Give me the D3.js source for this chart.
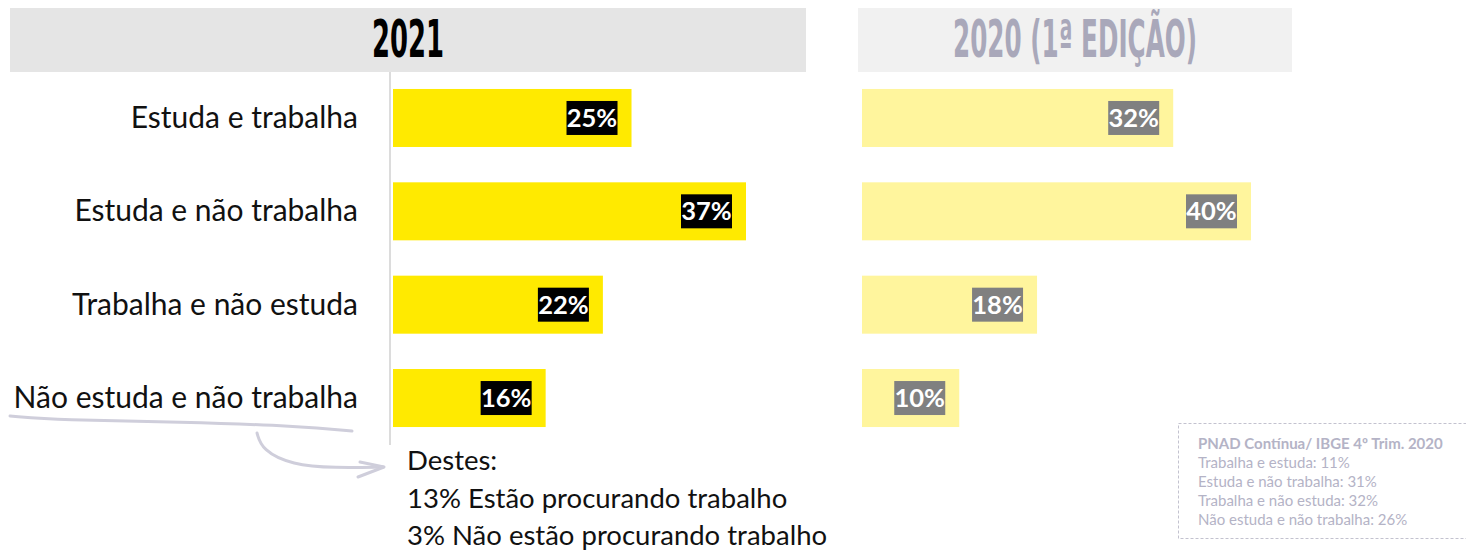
<!DOCTYPE html>
<html>
<head>
<meta charset="utf-8">
<script src="https://cdn.jsdelivr.net/npm/d3@7"></script>
<style>
  body { margin: 0; background: #fff; }
  svg { display: block; }
</style>
</head>
<body>
<div id="container"></div>
<script>
const width = 1466;
const height = 550;

// categorias e valores (%)
const categories = ["Estuda e trabalha", "Estuda e não trabalha", "Trabalha e não estuda", "Não estuda e não trabalha"];
const values2021 = [25, 37, 22, 16];
const values2020 = [32, 40, 18, 10];
const titles = ["2021", "2020 (1ª EDIÇÃO)"];
const noteLines = ["Destes:", "13% Estão procurando trabalho", "3% Não estão procurando trabalho"];
const sourceTitle = "PNAD Contínua/ IBGE 4º Trim. 2020";
const sourceLines = ["Trabalha e estuda: 11%", "Estuda e não trabalha: 31%", "Trabalha e não estuda: 32%", "Não estuda e não trabalha: 26%"];

const font = "Lato, 'Source Sans Pro', sans-serif";

const svg = d3.select("#container")
  .append("svg")
  .attr("width", width)
  .attr("height", height);

// headers
svg.append("rect").attr("x", 10).attr("y", 8).attr("width", 796).attr("height", 64).attr("fill", "#e5e5e5");
svg.append("rect").attr("x", 858).attr("y", 8).attr("width", 434).attr("height", 64).attr("fill", "#f1f1f1");

svg.append("text")
  .attr("x", 408).attr("y", 57)
  .attr("text-anchor", "middle")
  .attr("font-family", "'DejaVu Sans Condensed', 'DejaVu Sans', sans-serif")
  .attr("font-weight", "bold")
  .attr("font-size", 51)
  .attr("textLength", 72)
  .attr("lengthAdjust", "spacingAndGlyphs")
  .attr("fill", "#000")
  .text(titles[0]);

svg.append("text")
  .attr("x", 1075).attr("y", 57)
  .attr("text-anchor", "middle")
  .attr("font-family", "'DejaVu Sans Condensed', 'DejaVu Sans', sans-serif")
  .attr("font-weight", "bold")
  .attr("font-size", 51)
  .attr("textLength", 244)
  .attr("lengthAdjust", "spacingAndGlyphs")
  .attr("fill", "#a9a8ba")
  .text(titles[1]);

// scales
const y = d3.scaleBand()
  .domain(categories)
  .range([70.3, 445.7])
  .paddingInner(0.3786)
  .paddingOuter(0.2);

const x21 = d3.scaleLinear().domain([0, 37]).range([393, 746]);
const x20 = d3.scaleLinear().domain([0, 40]).range([862, 1251]);

// category labels
svg.selectAll("text.cat")
  .data(categories)
  .join("text")
  .attr("class", "cat")
  .attr("x", 358)
  .attr("y", d => y(d) + y.bandwidth() / 2 + 10)
  .attr("text-anchor", "end")
  .attr("font-family", font)
  .attr("font-size", 30)
  .attr("fill", "#111")
  .text(d => d);

// axis line
svg.append("line")
  .attr("x1", 390).attr("x2", 390)
  .attr("y1", 72).attr("y2", 445)
  .attr("stroke", "#dcdcdc").attr("stroke-width", 2);

function drawBars(vals, x, fill, boxFill, cls) {
  const data = categories.map((c, i) => ({ cat: c, v: vals[i] }));
  const g = svg.append("g").attr("class", cls);

  g.selectAll("rect.bar")
    .data(data)
    .join("rect")
    .attr("class", "bar")
    .attr("x", x(0))
    .attr("y", d => y(d.cat))
    .attr("width", d => x(d.v) - x(0))
    .attr("height", y.bandwidth())
    .attr("fill", fill);

  const boxW = 51, boxH = 34;
  g.selectAll("rect.lbl")
    .data(data)
    .join("rect")
    .attr("class", "lbl")
    .attr("x", d => x(d.v) - 14 - boxW)
    .attr("y", d => y(d.cat) + y.bandwidth() / 2 - boxH / 2)
    .attr("width", boxW)
    .attr("height", boxH)
    .attr("fill", boxFill);

  g.selectAll("text.val")
    .data(data)
    .join("text")
    .attr("class", "val")
    .attr("x", d => x(d.v) - 14 - boxW / 2)
    .attr("y", d => y(d.cat) + y.bandwidth() / 2 + 9)
    .attr("text-anchor", "middle")
    .attr("font-family", font)
    .attr("font-weight", "bold")
    .attr("font-size", 25.5)
    .attr("fill", "#fff")
    .text(d => d.v + "%");
}

drawBars(values2021, x21, "#ffea00", "#000", "y2021");
drawBars(values2020, x20, "#fff59d", "#808080", "y2020");

// annotation: underline + arrow
const line = d3.line().curve(d3.curveBasis);
svg.append("path")
  .attr("d", line([[10, 416], [60, 420], [180, 422], [300, 426], [352, 431]]))
  .attr("fill", "none").attr("stroke", "#cfcedb").attr("stroke-width", 3).attr("stroke-linecap", "round");

svg.append("path")
  .attr("d", line([[257, 433], [262, 450], [292, 465], [335, 468], [383, 467]]))
  .attr("fill", "none").attr("stroke", "#cfcedb").attr("stroke-width", 3).attr("stroke-linecap", "round");

svg.append("path")
  .attr("d", "M360,462 L384,467 L358,477")
  .attr("fill", "none").attr("stroke", "#cfcedb").attr("stroke-width", 3).attr("stroke-linecap", "round").attr("stroke-linejoin", "round");

svg.selectAll("text.note")
  .data(noteLines)
  .join("text")
  .attr("class", "note")
  .attr("x", 407)
  .attr("y", (d, i) => 470 + i * 37.5)
  .attr("font-family", font)
  .attr("font-size", 27.5)
  .attr("fill", "#111")
  .text(d => d);

// source box
svg.append("rect")
  .attr("x", 1178.5).attr("y", 423.5)
  .attr("width", 300).attr("height", 115)
  .attr("fill", "none")
  .attr("stroke", "#c3c2cf")
  .attr("stroke-dasharray", "3,2");

svg.append("text")
  .attr("x", 1198).attr("y", 449)
  .attr("font-family", font)
  .attr("font-weight", "bold")
  .attr("font-size", 15)
  .attr("fill", "#b4b3c6")
  .text(sourceTitle);

svg.selectAll("text.src")
  .data(sourceLines)
  .join("text")
  .attr("class", "src")
  .attr("x", 1198)
  .attr("y", (d, i) => 468 + i * 19)
  .attr("font-family", font)
  .attr("font-size", 15)
  .attr("fill", "#b4b3c6")
  .text(d => d);
</script>
</body>
</html>
